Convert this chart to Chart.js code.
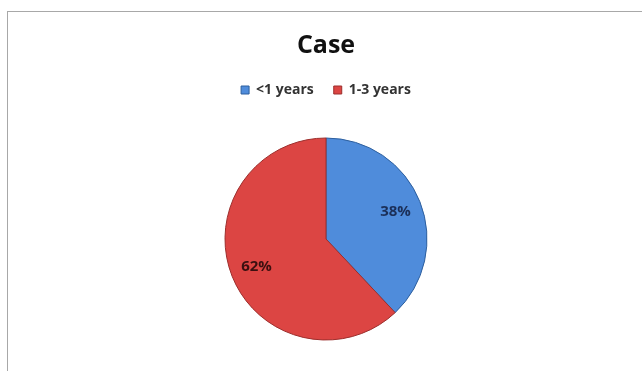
<!DOCTYPE html>
<html>
<head>
<meta charset="utf-8">
<script src="https://cdn.jsdelivr.net/npm/chart.js@4"></script>
<style>
  html, body { margin: 0; padding: 0; background: #fff; }
  #wrap { position: relative; width: 642px; height: 371px; }
  #frame {
    position: absolute; left: 7px; top: 11px; width: 640px; height: 370px;
    border: 1px solid #a8a8a8; box-shadow: 1px 1px 1px #d0d0d0; pointer-events: none;
  }
  canvas { position: absolute; left: 0; top: 0; }
</style>
</head>
<body>
<div id="wrap">
  <canvas id="pie" width="642" height="371"></canvas>
  <div id="frame"></div>
</div>
<script>
// ── Data ───────────────────────────────────────────────────────────────────
const categories = ['<1 years', '1-3 years'];
const shares = [38, 62];
const sliceLight = ['#4f8cdb', '#dc4543'];
const sliceDark = ['#3c74c0', '#c03533'];
const edgeColors = ['#2d5f9e', '#9c2e2c'];
const labelColors = ['#1b2f58', '#3b1010'];

const FONT = "'Open Sans', 'Liberation Sans', sans-serif";
const PIE_RADIUS = 101;

// soft radial shading, lighter in the middle like the old Office style
function sliceFill(ctx) {
  const chart = ctx.chart;
  const arc = chart.getDatasetMeta(0).data[ctx.dataIndex];
  if (!arc || !arc.outerRadius) return sliceLight[ctx.dataIndex];
  const g = chart.ctx.createRadialGradient(arc.x, arc.y, 0, arc.x, arc.y, arc.outerRadius);
  g.addColorStop(0, sliceLight[ctx.dataIndex]);
  g.addColorStop(0.75, sliceLight[ctx.dataIndex]);
  g.addColorStop(1, sliceDark[ctx.dataIndex]);
  return g;
}

// ── Percentage labels inside each slice ───────────────────────────────────
const sliceLabels = {
  id: 'sliceLabels',
  afterDatasetsDraw(chart) {
    const { ctx } = chart;
    const meta = chart.getDatasetMeta(0);
    ctx.save();
    ctx.font = `bold 15px ${FONT}`;
    ctx.textAlign = 'center';
    ctx.textBaseline = 'middle';
    meta.data.forEach((arc, i) => {
      const mid = (arc.startAngle + arc.endAngle) / 2;
      const r = arc.outerRadius * 0.74;
      ctx.fillStyle = labelColors[i];
      ctx.fillText(shares[i] + '%', arc.x + Math.cos(mid) * r, arc.y + Math.sin(mid) * r);
    });
    ctx.restore();
  },
};

new Chart(document.getElementById('pie'), {
  type: 'pie',
  data: {
    labels: categories,
    datasets: [{
      data: shares,
      backgroundColor: sliceFill,
      borderColor: edgeColors,
      borderWidth: 1,
      radius: PIE_RADIUS,
    }],
  },
  options: {
    responsive: false,
    animation: false,
    layout: { padding: { top: 31, bottom: 0, left: 10, right: 0 } },
    plugins: {
      title: {
        display: true,
        text: 'Case',
        color: '#111',
        font: { family: FONT, size: 25, weight: 'bold' },
        padding: { top: 0, bottom: 2 },
      },
      legend: {
        position: 'top',
        labels: {
          color: '#333',
          font: { family: FONT, size: 14, weight: 'bold' },
          boxWidth: 8,
          boxHeight: 8,
          padding: 20,
          generateLabels(chart) {
            return categories.map((text, i) => ({
              text,
              fillStyle: sliceLight[i],
              strokeStyle: edgeColors[i],
              lineWidth: 1,
              fontColor: '#333',
              index: i,
            }));
          },
        },
      },
      tooltip: { enabled: false },
    },
  },
  plugins: [sliceLabels],
});
</script>
</body>
</html>
